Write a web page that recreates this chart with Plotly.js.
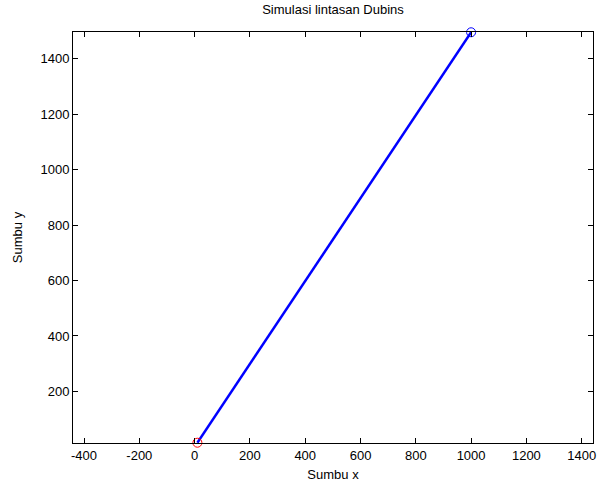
<!DOCTYPE html>
<html><head><meta charset="utf-8">
<script src="https://cdn.plot.ly/plotly-3.0.1.min.js"></script>
<style>html,body{margin:0;padding:0;background:#fff}</style>
</head><body>
<div id="chart" style="width:598px;height:485px"></div>
<script>
// Path of the Dubins simulation
var pathX = [10, 1000];
var pathY = [15, 1495];
var startX = [10], startY = [15];
var endX = [1000], endY = [1495];
var xTicks = [-400, -200, 0, 200, 400, 600, 800, 1000, 1200, 1400];
var yTicks = [200, 400, 600, 800, 1000, 1200, 1400];

var font = {family: 'Liberation Sans, Arial, sans-serif', size: 13, color: '#000'};
var data = [
  {x: pathX, y: pathY, mode: 'lines', line: {color: '#0000ff', width: 2.5}, showlegend: false, hoverinfo: 'skip'},
  {x: startX, y: startY, mode: 'markers', cliponaxis: false, marker: {symbol: 'circle-open', size: 9, color: '#ff0000', line: {width: 1}}, showlegend: false},
  {x: endX, y: endY, mode: 'markers', cliponaxis: false, marker: {symbol: 'circle-open', size: 9, color: '#0000ff', line: {width: 1}}, showlegend: false}
];
var axisCommon = {
  showline: true, linecolor: '#000', linewidth: 1, mirror: 'ticks',
  ticks: 'inside', ticklen: 5, tickcolor: '#000', showgrid: false, zeroline: false,
  tickfont: font
};
var layout = {
  width: 598, height: 485,
  margin: {l: 73, r: 5, t: 32, b: 42},
  paper_bgcolor: '#fff', plot_bgcolor: '#fff',
  font: font,
  title: {text: 'Simulasi lintasan Dubins', font: font, xref: 'paper', x: 0.5, xanchor: 'center', y: 0.99, yanchor: 'top'},
  xaxis: Object.assign({}, axisCommon, {range: [-440, 1441], tickvals: xTicks, ticktext: xTicks.map(String),
    title: {text: 'Sumbu x', font: font, standoff: 8}}),
  yaxis: Object.assign({}, axisCommon, {range: [14, 1496], tickvals: yTicks, ticktext: yTicks.map(String),
    title: {text: 'Sumbu y', font: font, standoff: 14}})
};
Plotly.newPlot('chart', data, layout, {staticPlot: true});
</script>
</body></html>
